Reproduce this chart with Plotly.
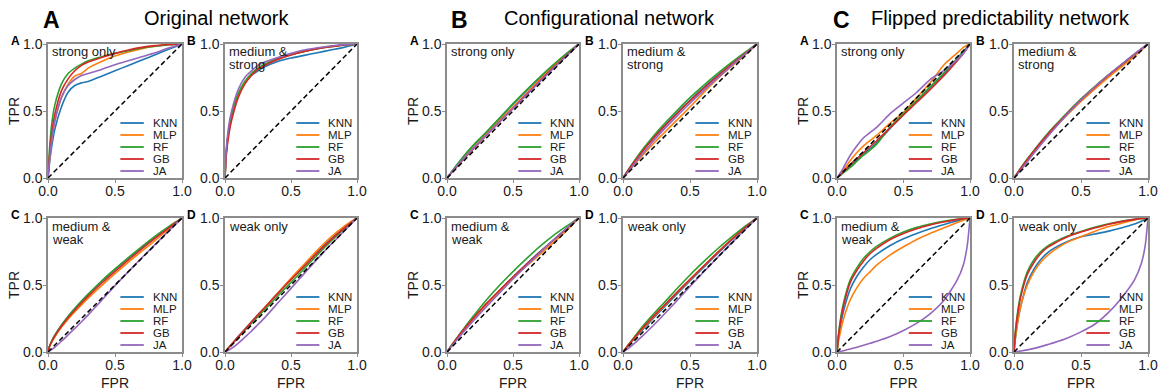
import plotly.graph_objects as go

# ---------------- data ----------------
FPR = [0, 0.01, 0.03, 0.05, 0.1, 0.15, 0.2, 0.25, 0.3, 0.4, 0.5, 0.6, 0.7, 0.8, 0.9, 0.95, 0.98, 1.0]
DIAG = [0, 1]
MODELS = ["KNN", "MLP", "RF", "GB", "JA"]
COLORS = {"KNN": "#1f77b4", "MLP": "#ff7f0e", "RF": "#2ca02c", "GB": "#d62728", "JA": "#9467bd"}

GROUP_LETTERS = ["A", "B", "C"]
GROUP_TITLES = ["Original network", "Configurational network", "Flipped predictability network"]
PANEL_LETTERS = ["A", "B", "C", "D"]
PANEL_LABELS = [["strong only"], ["medium &", "strong"], ["medium &", "weak"], ["weak only"]]
TICK_VALS = [0, 0.5, 1]
TICK_TEXT = ["0.0", "0.5", "1.0"]

# Original network
orig_strong = {
    "KNN": [0, 0.1, 0.25, 0.36, 0.53, 0.64, 0.69, 0.71, 0.72, 0.76, 0.80, 0.84, 0.88, 0.92, 0.96, 0.98, 0.992, 1],
    "MLP": [0, 0.12, 0.3, 0.42, 0.6, 0.7, 0.76, 0.78, 0.82, 0.87, 0.91, 0.94, 0.965, 0.983, 0.995, 0.998, 1, 1],
    "RF":  [0, 0.2, 0.42, 0.54, 0.7, 0.78, 0.82, 0.85, 0.875, 0.905, 0.93, 0.95, 0.97, 0.983, 0.994, 0.998, 1, 1],
    "GB":  [0, 0.15, 0.35, 0.47, 0.65, 0.74, 0.8, 0.84, 0.865, 0.9, 0.93, 0.955, 0.975, 0.988, 0.996, 0.999, 1, 1],
    "JA":  [0, 0.12, 0.3, 0.42, 0.6, 0.69, 0.735, 0.765, 0.78, 0.81, 0.845, 0.875, 0.905, 0.935, 0.97, 0.985, 0.994, 1],
}
orig_medstrong = {
    "KNN": [0, 0.2, 0.37, 0.47, 0.62, 0.71, 0.765, 0.8, 0.83, 0.87, 0.895, 0.915, 0.935, 0.955, 0.975, 0.987, 0.995, 1],
    "MLP": [0, 0.19, 0.36, 0.46, 0.62, 0.71, 0.775, 0.815, 0.845, 0.89, 0.92, 0.945, 0.967, 0.982, 0.993, 0.997, 0.999, 1],
    "RF":  [0, 0.2, 0.37, 0.47, 0.63, 0.72, 0.78, 0.82, 0.85, 0.89, 0.92, 0.945, 0.965, 0.98, 0.992, 0.997, 0.999, 1],
    "GB":  [0, 0.17, 0.33, 0.43, 0.6, 0.7, 0.765, 0.81, 0.84, 0.885, 0.918, 0.944, 0.965, 0.98, 0.992, 0.997, 0.999, 1],
    "JA":  [0, 0.22, 0.4, 0.5, 0.66, 0.75, 0.8, 0.84, 0.865, 0.9, 0.93, 0.955, 0.972, 0.985, 0.995, 0.998, 1, 1],
}
orig_medweak = {
    "KNN": [0, 0.04, 0.086, 0.123, 0.2, 0.265, 0.324, 0.379, 0.43, 0.527, 0.616, 0.7, 0.779, 0.855, 0.929, 0.965, 0.986, 1],
    "MLP": [0, 0.036, 0.078, 0.112, 0.184, 0.245, 0.3, 0.352, 0.402, 0.496, 0.585, 0.67, 0.752, 0.833, 0.915, 0.957, 0.983, 1],
    "RF":  [0, 0.04, 0.086, 0.123, 0.2, 0.265, 0.324, 0.38, 0.432, 0.53, 0.62, 0.705, 0.787, 0.865, 0.935, 0.968, 0.987, 1],
    "GB":  [0, 0.038, 0.082, 0.117, 0.192, 0.255, 0.312, 0.366, 0.417, 0.513, 0.602, 0.687, 0.77, 0.85, 0.925, 0.963, 0.985, 1],
    "JA":  [0, 0.006, 0.02, 0.035, 0.08, 0.128, 0.176, 0.226, 0.277, 0.385, 0.495, 0.6, 0.703, 0.803, 0.903, 0.952, 0.981, 1],
}
orig_weak = {
    "KNN": [0, 0.012, 0.035, 0.058, 0.115, 0.17, 0.225, 0.28, 0.33, 0.44, 0.545, 0.645, 0.745, 0.84, 0.925, 0.963, 0.986, 1],
    "MLP": [0, 0.01, 0.032, 0.054, 0.11, 0.165, 0.22, 0.275, 0.33, 0.44, 0.55, 0.655, 0.76, 0.855, 0.935, 0.97, 0.99, 1],
    "RF":  [0, 0.011, 0.033, 0.055, 0.11, 0.162, 0.213, 0.265, 0.315, 0.418, 0.52, 0.622, 0.725, 0.825, 0.915, 0.958, 0.984, 1],
    "GB":  [0, 0.012, 0.035, 0.057, 0.113, 0.168, 0.222, 0.277, 0.33, 0.437, 0.54, 0.64, 0.74, 0.835, 0.922, 0.962, 0.985, 1],
    "JA":  [0, 0.004, 0.014, 0.027, 0.065, 0.11, 0.155, 0.205, 0.255, 0.365, 0.475, 0.585, 0.695, 0.8, 0.9, 0.951, 0.98, 1],
}

# Configurational network
conf_strong = {
    "KNN": [0, 0.013, 0.04, 0.065, 0.128, 0.188, 0.243, 0.293, 0.342, 0.445, 0.55, 0.65, 0.745, 0.835, 0.922, 0.962, 0.985, 1],
    "MLP": [0, 0.012, 0.036, 0.059, 0.118, 0.174, 0.228, 0.28, 0.33, 0.43, 0.53, 0.63, 0.73, 0.825, 0.915, 0.958, 0.983, 1],
    "RF":  [0, 0.013, 0.04, 0.066, 0.13, 0.19, 0.245, 0.295, 0.345, 0.45, 0.555, 0.655, 0.75, 0.84, 0.925, 0.963, 0.986, 1],
    "GB":  [0, 0.011, 0.034, 0.056, 0.112, 0.166, 0.218, 0.27, 0.32, 0.42, 0.52, 0.62, 0.72, 0.818, 0.91, 0.955, 0.982, 1],
    "JA":  [0, 0.013, 0.037, 0.06, 0.117, 0.17, 0.222, 0.272, 0.322, 0.42, 0.518, 0.617, 0.715, 0.812, 0.906, 0.953, 0.981, 1],
}
conf_medstrong = {
    "KNN": [0, 0.015, 0.045, 0.074, 0.143, 0.208, 0.268, 0.326, 0.38, 0.483, 0.58, 0.672, 0.76, 0.843, 0.923, 0.962, 0.985, 1],
    "MLP": [0, 0.012, 0.036, 0.06, 0.118, 0.174, 0.228, 0.28, 0.33, 0.43, 0.53, 0.635, 0.735, 0.825, 0.91, 0.952, 0.981, 1],
    "RF":  [0, 0.016, 0.048, 0.078, 0.15, 0.218, 0.28, 0.34, 0.395, 0.5, 0.6, 0.69, 0.775, 0.855, 0.93, 0.966, 0.987, 1],
    "GB":  [0, 0.015, 0.045, 0.073, 0.141, 0.205, 0.265, 0.322, 0.376, 0.478, 0.575, 0.667, 0.755, 0.84, 0.92, 0.96, 0.984, 1],
    "JA":  [0, 0.011, 0.035, 0.06, 0.124, 0.186, 0.245, 0.302, 0.357, 0.46, 0.558, 0.652, 0.742, 0.83, 0.915, 0.957, 0.983, 1],
}
conf_medweak = {
    "KNN": [0, 0.014, 0.042, 0.068, 0.132, 0.193, 0.25, 0.305, 0.36, 0.46, 0.56, 0.655, 0.745, 0.83, 0.915, 0.958, 0.984, 1],
    "MLP": [0, 0.014, 0.041, 0.067, 0.13, 0.19, 0.247, 0.302, 0.355, 0.455, 0.55, 0.64, 0.725, 0.81, 0.9, 0.95, 0.98, 1],
    "RF":  [0, 0.015, 0.045, 0.073, 0.14, 0.205, 0.268, 0.33, 0.39, 0.5, 0.6, 0.695, 0.785, 0.865, 0.935, 0.968, 0.988, 1],
    "GB":  [0, 0.014, 0.042, 0.069, 0.134, 0.195, 0.253, 0.31, 0.363, 0.463, 0.56, 0.652, 0.742, 0.83, 0.915, 0.958, 0.984, 1],
    "JA":  [0, 0.012, 0.037, 0.061, 0.12, 0.177, 0.233, 0.287, 0.34, 0.443, 0.545, 0.642, 0.737, 0.83, 0.918, 0.96, 0.985, 1],
}
conf_weak = {
    "KNN": [0, 0.012, 0.036, 0.059, 0.116, 0.17, 0.223, 0.276, 0.327, 0.43, 0.53, 0.63, 0.728, 0.825, 0.915, 0.958, 0.984, 1],
    "MLP": [0, 0.013, 0.039, 0.063, 0.122, 0.178, 0.232, 0.285, 0.337, 0.44, 0.54, 0.64, 0.738, 0.832, 0.92, 0.961, 0.985, 1],
    "RF":  [0, 0.014, 0.042, 0.068, 0.133, 0.195, 0.253, 0.308, 0.36, 0.47, 0.575, 0.672, 0.765, 0.85, 0.93, 0.966, 0.987, 1],
    "GB":  [0, 0.014, 0.04, 0.065, 0.125, 0.183, 0.237, 0.29, 0.34, 0.443, 0.543, 0.64, 0.737, 0.83, 0.918, 0.96, 0.985, 1],
    "JA":  [0, 0.006, 0.02, 0.035, 0.078, 0.124, 0.172, 0.222, 0.274, 0.38, 0.49, 0.595, 0.7, 0.803, 0.903, 0.952, 0.981, 1],
}

# Flipped predictability network
flip_strong = {
    "KNN": [0, 0.009, 0.027, 0.045, 0.09, 0.135, 0.18, 0.22, 0.265, 0.37, 0.475, 0.575, 0.675, 0.775, 0.88, 0.94, 0.975, 1],
    "MLP": [0, 0.012, 0.036, 0.06, 0.13, 0.19, 0.24, 0.28, 0.32, 0.41, 0.49, 0.6, 0.71, 0.84, 0.93, 0.975, 0.993, 1],
    "RF":  [0, 0.008, 0.024, 0.04, 0.08, 0.125, 0.17, 0.21, 0.255, 0.38, 0.48, 0.58, 0.68, 0.78, 0.89, 0.945, 0.978, 1],
    "GB":  [0, 0.01, 0.03, 0.05, 0.1, 0.145, 0.19, 0.235, 0.28, 0.375, 0.47, 0.565, 0.66, 0.76, 0.87, 0.93, 0.97, 1],
    "JA":  [0, 0.015, 0.045, 0.08, 0.17, 0.24, 0.3, 0.34, 0.38, 0.48, 0.56, 0.64, 0.735, 0.8, 0.88, 0.93, 0.97, 1],
}
flip_medstrong = {
    "KNN": [0, 0.014, 0.043, 0.071, 0.139, 0.203, 0.265, 0.325, 0.38, 0.485, 0.585, 0.677, 0.763, 0.845, 0.925, 0.963, 0.986, 1],
    "MLP": [0, 0.014, 0.042, 0.07, 0.136, 0.2, 0.26, 0.318, 0.372, 0.475, 0.572, 0.662, 0.747, 0.828, 0.91, 0.955, 0.982, 1],
    "RF":  [0, 0.015, 0.045, 0.074, 0.143, 0.208, 0.27, 0.33, 0.385, 0.49, 0.59, 0.68, 0.765, 0.845, 0.925, 0.963, 0.986, 1],
    "GB":  [0, 0.014, 0.043, 0.071, 0.138, 0.202, 0.264, 0.323, 0.378, 0.483, 0.583, 0.675, 0.762, 0.843, 0.923, 0.962, 0.985, 1],
    "JA":  [0, 0.011, 0.034, 0.058, 0.122, 0.186, 0.248, 0.308, 0.366, 0.477, 0.582, 0.677, 0.765, 0.847, 0.926, 0.964, 0.986, 1],
}
flip_medweak = {
    "KNN": [0, 0.1, 0.22, 0.31, 0.47, 0.565, 0.635, 0.69, 0.73, 0.795, 0.845, 0.885, 0.92, 0.95, 0.978, 0.99, 0.997, 1],
    "MLP": [0, 0.07, 0.17, 0.25, 0.39, 0.48, 0.55, 0.6, 0.65, 0.725, 0.785, 0.84, 0.885, 0.925, 0.965, 0.984, 0.995, 1],
    "RF":  [0, 0.12, 0.27, 0.37, 0.54, 0.63, 0.7, 0.75, 0.79, 0.85, 0.895, 0.93, 0.955, 0.975, 0.99, 0.996, 0.999, 1],
    "GB":  [0, 0.11, 0.25, 0.35, 0.52, 0.61, 0.68, 0.735, 0.775, 0.84, 0.885, 0.92, 0.948, 0.97, 0.988, 0.995, 0.999, 1],
    "JA":  [0, 0.002, 0.006, 0.01, 0.022, 0.036, 0.05, 0.065, 0.08, 0.115, 0.16, 0.215, 0.285, 0.38, 0.53, 0.65, 0.8, 1],
}
flip_weak = {
    "KNN": [0, 0.1, 0.24, 0.34, 0.52, 0.62, 0.69, 0.74, 0.775, 0.825, 0.86, 0.88, 0.9, 0.925, 0.955, 0.975, 0.99, 1],
    "MLP": [0, 0.1, 0.24, 0.34, 0.5, 0.6, 0.67, 0.72, 0.76, 0.82, 0.86, 0.9, 0.935, 0.96, 0.985, 0.994, 0.998, 1],
    "RF":  [0, 0.15, 0.32, 0.43, 0.6, 0.69, 0.75, 0.79, 0.82, 0.865, 0.9, 0.93, 0.955, 0.975, 0.99, 0.996, 0.999, 1],
    "GB":  [0, 0.14, 0.3, 0.41, 0.58, 0.67, 0.735, 0.78, 0.81, 0.86, 0.895, 0.925, 0.952, 0.973, 0.99, 0.996, 0.999, 1],
    "JA":  [0, 0.001, 0.004, 0.007, 0.016, 0.027, 0.04, 0.055, 0.07, 0.105, 0.15, 0.205, 0.29, 0.4, 0.54, 0.66, 0.8, 1],
}

PANELS = [
    [orig_strong, orig_medstrong, orig_medweak, orig_weak],
    [conf_strong, conf_medstrong, conf_medweak, conf_weak],
    [flip_strong, flip_medstrong, flip_medweak, flip_weak],
]

# ---------------- layout constants (pixels) ----------------
W, H = 1162, 391
COL_L = [48, 225, 447, 623, 837, 1014]
COL_R = [182, 357, 579, 757, 970, 1148]
ROW_T = [44, 218]
ROW_B = [178, 352]
FONT = "Liberation Sans, Arial, Helvetica, sans-serif"
AXIS_GREY = "#8c8c8c"
TEXT_COL = "#1a1a1a"

fig = go.Figure()
layout = dict(
    width=W, height=H,
    margin=dict(l=0, r=0, t=0, b=0, autoexpand=False),
    paper_bgcolor="white", plot_bgcolor="white",
    showlegend=False,
    font=dict(family=FONT, color=TEXT_COL),
)
annotations = []
shapes = []

LEG_OFFSETS = [79, 91, 103, 115, 127]  # px below panel top

idx = 0
for g in range(3):
    for r in range(2):
        for c in range(2):
            idx += 1
            data = PANELS[g][r * 2 + c]
            col = g * 2 + c
            sfx = "" if idx == 1 else str(idx)
            xa, ya = "x" + sfx, "y" + sfx
            ph = ROW_B[r] - ROW_T[r]
            for m in MODELS:
                fig.add_trace(go.Scatter(
                    x=FPR, y=data[m], mode="lines", name=m,
                    line=dict(color=COLORS[m], width=1.6, shape="spline", smoothing=0.6),
                    xaxis=xa, yaxis=ya, hoverinfo="skip", showlegend=False))
            fig.add_trace(go.Scatter(
                x=DIAG, y=DIAG, mode="lines",
                line=dict(color="black", width=1.5, dash="5px,3px"),
                xaxis=xa, yaxis=ya, hoverinfo="skip", showlegend=False))

            common = dict(
                range=[0, 1], showgrid=False, zeroline=False, showline=True,
                linecolor=AXIS_GREY, linewidth=1.5, mirror=True,
                ticks="outside", ticklen=3, tickwidth=1.2, tickcolor=AXIS_GREY,
                tickvals=TICK_VALS, ticktext=TICK_TEXT,
                tickfont=dict(size=14, color=TEXT_COL, family=FONT),
                fixedrange=True, automargin=False,
            )
            xax = dict(common, domain=[COL_L[col] / W, COL_R[col] / W], anchor=ya,
                       ticklabelstandoff=-4)
            yax = dict(common, domain=[1 - ROW_B[r] / H, 1 - ROW_T[r] / H], anchor=xa,
                       ticklabelstandoff=-2)
            if r == 1:
                xax["title"] = dict(text="FPR", font=dict(size=14, color=TEXT_COL), standoff=9)
            if c == 0:
                yax["title"] = dict(text="TPR", font=dict(size=14, color=TEXT_COL), standoff=0)
            layout["xaxis" + sfx] = xax
            layout["yaxis" + sfx] = yax

            # panel condition label
            for li, txt in enumerate(PANEL_LABELS[r * 2 + c]):
                annotations.append(dict(
                    text=txt, xref=xa + " domain", yref=ya + " domain",
                    x=0.012, y=1 - (8 + 13 * li) / ph, xanchor="left", yanchor="middle",
                    showarrow=False, font=dict(size=13, color=TEXT_COL)))

            # legend
            for k, m in enumerate(MODELS):
                yy = 1 - LEG_OFFSETS[k] / ph
                shapes.append(dict(
                    type="line", xref=xa + " domain", yref=ya + " domain",
                    x0=0.54, x1=0.715, y0=yy, y1=yy,
                    line=dict(color=COLORS[m], width=1.8)))
                annotations.append(dict(
                    text=m, xref=xa + " domain", yref=ya + " domain",
                    x=0.765, y=yy, xanchor="left", yanchor="middle",
                    showarrow=False, font=dict(size=11.5, color=TEXT_COL)))

            # small panel letter
            lx = COL_L[col] - 33 if c == 0 else COL_L[col] - 34
            annotations.append(dict(
                text="<b>%s</b>" % PANEL_LETTERS[r * 2 + c], xref="paper", yref="paper",
                x=lx / W, y=1 - (ROW_T[r] - 3) / H, xanchor="center", yanchor="middle",
                showarrow=False, font=dict(size=12, color="black")))

# group letters and titles
GROUP_LETTER_X = [51, 459, 841]
GROUP_TITLE_X = [217, 609, 1000]
for g in range(3):
    annotations.append(dict(
        text="<b>%s</b>" % GROUP_LETTERS[g], xref="paper", yref="paper",
        x=GROUP_LETTER_X[g] / W, y=1 - 20 / H, xanchor="center", yanchor="middle",
        showarrow=False, font=dict(size=23, color="black")))
    annotations.append(dict(
        text=GROUP_TITLES[g], xref="paper", yref="paper",
        x=GROUP_TITLE_X[g] / W, y=1 - 18 / H, xanchor="center", yanchor="middle",
        showarrow=False, font=dict(size=20, color="black")))

layout["annotations"] = annotations
layout["shapes"] = shapes
fig.update_layout(**layout)
fig.write_html("out.html")
